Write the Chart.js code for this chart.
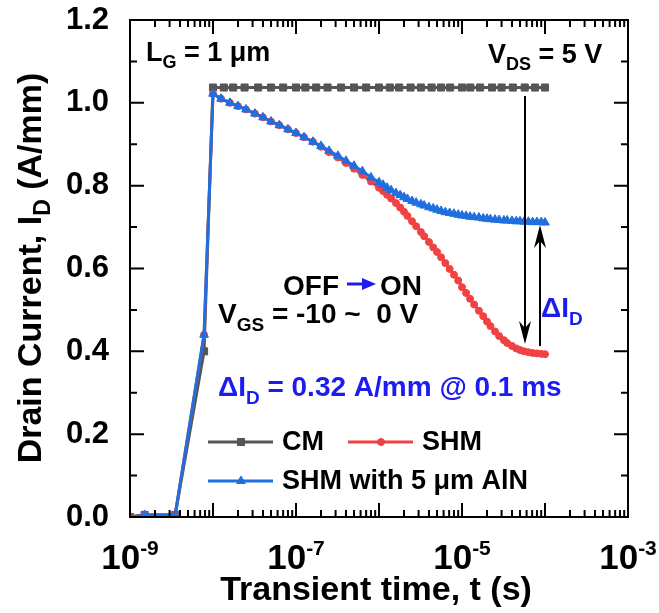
<!DOCTYPE html>
<html>
<head>
<meta charset="utf-8">
<script src="https://cdn.jsdelivr.net/npm/chart.js@4.4.1/dist/chart.umd.min.js"></script>
<style>
html, body { margin: 0; padding: 0; background: #fff; }
#wrap { width: 659px; height: 613px; }
</style>
</head>
<body>
<div id="wrap"><canvas id="chart" width="659" height="613"></canvas></div>
<script>
// CM (conventional) - time (s) and drain current (A/mm)
var cmTime = [1e-9, 1.5e-9, 3.5e-9, 7.8e-9,
	1e-8, 1.35e-8, 1.75e-8, 2.4e-8, 3.5e-8, 5e-8, 7e-8,
	1e-7, 1.3e-7, 1.75e-7, 2.4e-7, 3.5e-7, 5e-7, 7e-7,
	1e-6, 1.35e-6, 1.75e-6, 2.4e-6, 3.2e-6, 4.3e-6, 5.6e-6, 7.2e-6,
	1e-5, 1.26e-5, 1.65e-5, 2.3e-5, 3e-5, 4.1e-5, 5.7e-5, 7.6e-5, 1e-4];
var cmCurrent = [0, 0.005, 0.005, 0.40,
	1.037, 1.037, 1.037, 1.037, 1.037, 1.037, 1.037,
	1.037, 1.037, 1.037, 1.037, 1.037, 1.037, 1.037,
	1.037, 1.037, 1.037, 1.037, 1.037, 1.037, 1.037, 1.037,
	1.037, 1.037, 1.037, 1.037, 1.037, 1.037, 1.037, 1.037, 1.037];

// SHM and SHM with AlN share the time steps
var shmTime = [1e-9, 1.5e-9, 3.5e-9, 7.8e-9,
	1e-8, 1.25e-8, 1.6e-8, 2e-8, 2.5e-8, 3.2e-8, 4e-8, 5e-8, 6.3e-8, 8e-8,
	1e-7, 1.25e-7, 1.6e-7, 2e-7, 2.5e-7, 3.2e-7, 4e-7, 5e-7, 6.3e-7, 8e-7,
	1e-6, 1.12e-6, 1.25e-6, 1.4e-6, 1.6e-6, 1.8e-6, 2e-6, 2.2e-6, 2.5e-6, 2.8e-6,
	3.2e-6, 3.5e-6, 4e-6, 4.5e-6, 5e-6, 5.6e-6, 6.3e-6, 7.1e-6, 8e-6, 9e-6,
	1e-5, 1.12e-5, 1.25e-5, 1.4e-5, 1.6e-5, 1.8e-5, 2e-5, 2.2e-5, 2.5e-5, 2.8e-5,
	3.2e-5, 3.5e-5, 4e-5, 4.5e-5, 5e-5, 5.6e-5, 6.3e-5, 7.1e-5, 8e-5, 9e-5,
	1e-4];
var shmCurrent = [0, 0.005, 0.005, 0.44,
	1.022, 1.010, 1.000, 0.992, 0.984, 0.974, 0.965, 0.955, 0.946, 0.936,
	0.927, 0.917, 0.906, 0.894, 0.881, 0.868, 0.855, 0.841, 0.826, 0.810,
	0.795, 0.787, 0.778, 0.769, 0.758, 0.747, 0.737, 0.727, 0.714, 0.702,
	0.688, 0.678, 0.664, 0.651, 0.640, 0.627, 0.613, 0.599, 0.585, 0.571,
	0.555, 0.541, 0.527, 0.513, 0.498, 0.485, 0.472, 0.461, 0.448, 0.437,
	0.427, 0.420, 0.413, 0.407, 0.403, 0.400, 0.398, 0.396, 0.395, 0.394,
	0.393];
var alnCurrent = [0, 0.005, 0.005, 0.44,
	1.022, 1.010, 1.000, 0.992, 0.984, 0.974, 0.965, 0.955, 0.946, 0.936,
	0.927, 0.917, 0.906, 0.896, 0.884, 0.872, 0.860, 0.848, 0.835, 0.820,
	0.808, 0.802, 0.795, 0.789, 0.782, 0.777, 0.772, 0.768, 0.763, 0.759,
	0.755, 0.752, 0.748, 0.745, 0.742, 0.739, 0.736, 0.734, 0.732, 0.730,
	0.728, 0.727, 0.725, 0.724, 0.723, 0.721, 0.720, 0.719, 0.718, 0.717,
	0.716, 0.716, 0.715, 0.714, 0.714, 0.713, 0.713, 0.712, 0.712, 0.712,
	0.711];

// axis ticks
var xMajorExp = [-9, -8, -7, -6, -5, -4, -3];
var xLabelExp = [-9, -7, -5, -3];
var yMajor = [0, 0.2, 0.4, 0.6, 0.8, 1.0, 1.2];
var yMinor = [0.1, 0.3, 0.5, 0.7, 0.9, 1.1];

var FONT = '"Liberation Sans", Arial, sans-serif';
var BLUE_TXT = '#1c1cf0';

function pts(xs, ys) {
	return xs.map(function(x, i) { return { x: x, y: ys[i] }; });
}

function setFont(ctx, size) {
	ctx.font = 'bold ' + size + 'px ' + FONT;
}

// parts: [text, 0 = normal, 1 = subscript]
function drawRich(ctx, parts, x, y, size, color) {
	var small = Math.round(size * 0.68);
	var cx = x;
	ctx.fillStyle = color;
	ctx.textAlign = 'left';
	ctx.textBaseline = 'alphabetic';
	parts.forEach(function(p) {
		setFont(ctx, p[1] ? small : size);
		ctx.fillText(p[0], cx, y + (p[1] ? size * 0.27 : 0));
		cx += ctx.measureText(p[0]).width;
	});
	return cx;
}

function richWidth(ctx, parts, size) {
	var small = Math.round(size * 0.68), w = 0;
	parts.forEach(function(p) {
		setFont(ctx, p[1] ? small : size);
		w += ctx.measureText(p[0]).width;
	});
	return w;
}

// vertical arrow, tip at yTip
function vArrow(ctx, x, yTail, yTip, color) {
	var dir = yTip > yTail ? 1 : -1;
	ctx.strokeStyle = color;
	ctx.fillStyle = color;
	ctx.lineWidth = 2;
	ctx.beginPath();
	ctx.moveTo(x, yTail);
	ctx.lineTo(x, yTip - dir * 14);
	ctx.stroke();
	ctx.beginPath();
	ctx.moveTo(x, yTip);
	ctx.lineTo(x - 6, yTip - dir * 23);
	ctx.lineTo(x, yTip - dir * 16);
	ctx.lineTo(x + 6, yTip - dir * 23);
	ctx.closePath();
	ctx.fill();
}

var overlay = {
	id: 'overlay',
	afterDraw: function(chart) {
		var ctx = chart.ctx;
		var a = chart.chartArea;
		var xs = chart.scales.x, ys = chart.scales.y;
		ctx.save();

		// frame
		ctx.strokeStyle = '#000';
		ctx.lineWidth = 2;
		ctx.strokeRect(a.left, a.top, a.right - a.left, a.bottom - a.top);

		// inward ticks
		ctx.lineWidth = 2;
		ctx.beginPath();
		xMajorExp.forEach(function(e, i) {
			var px = xs.getPixelForValue(Math.pow(10, e));
			ctx.moveTo(px, a.bottom); ctx.lineTo(px, a.bottom - 14);
			ctx.moveTo(px, a.top); ctx.lineTo(px, a.top + 14);
			if (i < xMajorExp.length - 1) {
				for (var k = 2; k <= 9; k++) {
					var mx = xs.getPixelForValue(k * Math.pow(10, e));
					ctx.moveTo(mx, a.bottom); ctx.lineTo(mx, a.bottom - 7);
					ctx.moveTo(mx, a.top); ctx.lineTo(mx, a.top + 7);
				}
			}
		});
		yMajor.forEach(function(v) {
			var py = ys.getPixelForValue(v);
			ctx.moveTo(a.left, py); ctx.lineTo(a.left + 14, py);
			ctx.moveTo(a.right, py); ctx.lineTo(a.right - 14, py);
		});
		yMinor.forEach(function(v) {
			var py = ys.getPixelForValue(v);
			ctx.moveTo(a.left, py); ctx.lineTo(a.left + 7, py);
			ctx.moveTo(a.right, py); ctx.lineTo(a.right - 7, py);
		});
		ctx.stroke();

		// x tick labels 10^n
		ctx.fillStyle = '#000';
		ctx.textAlign = 'left';
		ctx.textBaseline = 'alphabetic';
		xLabelExp.forEach(function(e) {
			var px = xs.getPixelForValue(Math.pow(10, e));
			setFont(ctx, 35);
			var w1 = ctx.measureText('10').width;
			setFont(ctx, 21);
			var w2 = ctx.measureText(String(e)).width;
			var sx = px - (w1 + w2) / 2;
			setFont(ctx, 35);
			ctx.fillText('10', sx, 569);
			setFont(ctx, 21);
			ctx.fillText(String(e), sx + w1, 555);
		});

		// axis titles
		var xt = [['Transient time, t (s)', 0]];
		drawRich(ctx, xt, 376 - richWidth(ctx, xt, 34) / 2, 600, 34, '#000');
		var yt = [['Drain Current, I', 0], ['D', 1], [' (A/mm)', 0]];
		ctx.save();
		ctx.translate(41, 268);
		ctx.rotate(-Math.PI / 2);
		drawRich(ctx, yt, -richWidth(ctx, yt, 34) / 2, 0, 34, '#000');
		ctx.restore();

		// annotations
		drawRich(ctx, [['L', 0], ['G', 1], [' = 1 \u03bcm', 0]], 146, 61, 27, '#000');
		drawRich(ctx, [['V', 0], ['DS', 1], [' = 5 V', 0]], 488, 63, 27, '#000');
		drawRich(ctx, [['OFF', 0]], 283, 295, 28, '#000');
		drawRich(ctx, [['ON', 0]], 380, 295, 28, '#000');
		drawRich(ctx, [['V', 0], ['GS', 1], [' = -10 ~  0 V', 0]], 218, 323, 28, '#000');
		drawRich(ctx, [['\u0394I', 0], ['D', 1], [' = 0.32 A/mm @ 0.1 ms', 0]], 218, 396, 28, BLUE_TXT);
		drawRich(ctx, [['\u0394I', 0], ['D', 1]], 541, 317, 28, BLUE_TXT);

		// OFF -> ON arrow
		ctx.strokeStyle = BLUE_TXT;
		ctx.fillStyle = BLUE_TXT;
		ctx.lineWidth = 3;
		ctx.beginPath();
		ctx.moveTo(347, 284); ctx.lineTo(364, 284);
		ctx.stroke();
		ctx.beginPath();
		ctx.moveTo(376, 284); ctx.lineTo(362, 278); ctx.lineTo(362, 290);
		ctx.closePath();
		ctx.fill();

		// delta I_D arrows
		vArrow(ctx, 525, 96, 344, '#000');
		vArrow(ctx, 540, 346, 225, '#000');

		// legend
		var items = [
			{ ds: 2, x: 208, y: 442, text: 'CM' },
			{ ds: 1, x: 348, y: 442, text: 'SHM' },
			{ ds: 0, x: 208, y: 481, text: 'SHM with 5 \u03bcm AlN' }
		];
		items.forEach(function(it) {
			var d = chart.data.datasets[it.ds];
			ctx.strokeStyle = d.borderColor;
			ctx.lineWidth = 3;
			ctx.beginPath();
			ctx.moveTo(it.x, it.y); ctx.lineTo(it.x + 65, it.y);
			ctx.stroke();
			ctx.fillStyle = d.backgroundColor;
			ctx.strokeStyle = d.borderColor;
			ctx.lineWidth = 1;
			Chart.helpers.drawPoint(ctx, { pointStyle: d.pointStyle, radius: d.pointRadius, borderWidth: 1, rotation: 0 }, it.x + 33, it.y);
			drawRich(ctx, [[it.text, 0]], it.x + 74, it.y + 8, 27, '#000');
		});

		ctx.restore();
	}
};

var ctx = document.getElementById('chart').getContext('2d');
var chart = new Chart(ctx, {
	type: 'scatter',
	data: {
		datasets: [{
			label: 'SHM with 5 \u03bcm AlN',
			data: pts(shmTime, alnCurrent),
			borderColor: '#1f6fdf',
			backgroundColor: '#1f6fdf',
			borderWidth: 3,
			showLine: true,
			pointStyle: 'triangle',
			pointRadius: 5,
			pointBorderWidth: 1,
			order: 1
		}, {
			label: 'SHM',
			data: pts(shmTime, shmCurrent),
			borderColor: '#f04242',
			backgroundColor: '#f04242',
			borderWidth: 3,
			showLine: true,
			pointStyle: 'circle',
			pointRadius: 3.5,
			pointBorderWidth: 1,
			order: 2
		}, {
			label: 'CM',
			data: pts(cmTime, cmCurrent),
			borderColor: '#555555',
			backgroundColor: '#555555',
			borderWidth: 3,
			showLine: true,
			pointStyle: 'rect',
			pointRadius: 5,
			pointBorderWidth: 1,
			order: 3
		}]
	},
	options: {
		responsive: false,
		animation: false,
		devicePixelRatio: 1,
		layout: { padding: { top: 20, right: 31, left: 0, bottom: 0 } },
		plugins: {
			legend: { display: false },
			tooltip: { enabled: false }
		},
		scales: {
			x: {
				type: 'logarithmic',
				min: 1e-9,
				max: 1e-3,
				grid: { display: false, drawTicks: false },
				border: { display: false },
				ticks: { display: false },
				afterFit: function(s) { s.height = 96; s.paddingLeft = 0; s.paddingRight = 0; }
			},
			y: {
				min: 0,
				max: 1.2,
				grid: { display: false, drawTicks: false },
				border: { display: false },
				ticks: {
					stepSize: 0.2,
					padding: 21,
					color: '#000',
					font: { family: FONT, size: 31, weight: 'bold' },
					callback: function(v) { return v.toFixed(1); }
				},
				afterFit: function(s) { s.width = 130; s.paddingTop = 0; s.paddingBottom = 0; }
			}
		}
	},
	plugins: [overlay]
});
</script>
</body>
</html>
